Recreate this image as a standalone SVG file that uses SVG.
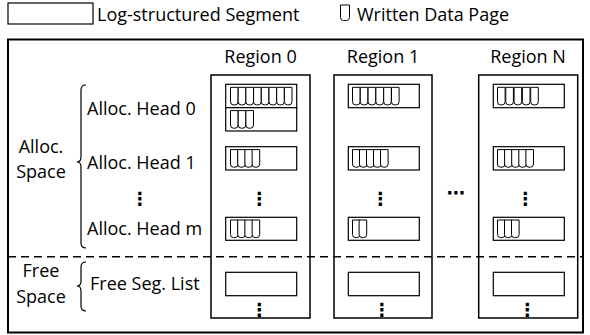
<svg xmlns="http://www.w3.org/2000/svg" xmlns:xlink="http://www.w3.org/1999/xlink" width="590" height="335" viewBox="0 0 590 335">
<style>
text{font-family:"Open Sans","Liberation Sans",sans-serif;font-size:18px;fill:#000}
.mid{text-anchor:middle}
.dots{font-family:"DejaVu Sans",sans-serif;font-size:18px;font-weight:bold;text-anchor:middle}
.seg{fill:#fff;stroke:#000;stroke-width:1.2}
.reg{fill:none;stroke:#000;stroke-width:1.5}
.pg{fill:#fff;stroke:#000;stroke-width:1}
.br{fill:none;stroke:#000;stroke-width:1.2}
</style>
<defs>
<path id="p" class="pg" d="M0,0 H7.6 V14.4 Q7.6,17.6 4.6,17.6 H3 Q0,17.6 0,14.4 Z"/>
</defs>
<rect x="0" y="0" width="590" height="335" fill="#fff"/>
<g id="legend">
<rect class="seg" x="8" y="3" width="85" height="21"/>
<text x="97" y="21">Log-structured Segment</text>
<path class="pg" d="M340.5,5 H349.5 V17.5 Q349.5,20.5 346.5,20.5 H343.5 Q340.5,20.5 340.5,17.5 Z"/>
<text x="357" y="21">Written Data Page</text>
</g>
<g id="frame">
<rect x="8" y="39.5" width="575" height="293" fill="none" stroke="#000" stroke-width="2"/>
<line x1="8" y1="256.7" x2="583" y2="256.7" stroke="#000" stroke-width="1.5" stroke-dasharray="8,5"/>
</g>
<g id="labels">
<text class="mid" x="41" y="153">Alloc.</text>
<text class="mid" x="41" y="178">Space</text>
<text class="mid" x="41" y="277">Free</text>
<text class="mid" x="41" y="303">Space</text>
<text x="87" y="115">Alloc. Head 0</text>
<text x="87" y="169">Alloc. Head 1</text>
<text class="dots" x="140" y="205">⋮</text>
<text x="87" y="235">Alloc. Head m</text>
<text x="90" y="290">Free Seg. List</text>
</g>
<g id="braces">
<path class="br" d="M86,85 Q81,85 81,90 V157 Q81,162 77,162 Q81,162 81,167 V243 Q81,248 86,248"/>
<path class="br" d="M86,262 Q81,262 81,267 V281 Q81,286 77,286 Q81,286 81,291 V306 Q81,311 86,311"/>
</g>
<g id="region0">
<text class="mid" x="260.5" y="63">Region 0</text>
<rect class="reg" x="211" y="75" width="99" height="243"/>
<rect class="seg" x="225.7" y="84.3" width="71" height="23.4"/>
<rect class="seg" x="225.7" y="107.7" width="71" height="23.3"/>
<rect class="seg" x="225.7" y="146.7" width="71" height="23.3"/>
<rect class="seg" x="225.7" y="217.3" width="71" height="23"/>
<rect class="seg" x="225.7" y="272.3" width="71" height="23.4"/>
<g transform="translate(230.5,87.3)"><use xlink:href="#p" x="0"/><use xlink:href="#p" x="7.7"/><use xlink:href="#p" x="15.4"/><use xlink:href="#p" x="23.1"/><use xlink:href="#p" x="30.8"/><use xlink:href="#p" x="38.5"/><use xlink:href="#p" x="46.2"/><use xlink:href="#p" x="53.9"/></g>
<g transform="translate(230.5,110.6)"><use xlink:href="#p" x="0"/><use xlink:href="#p" x="7.7"/><use xlink:href="#p" x="15.4"/></g>
<g transform="translate(230.5,149.6)"><use xlink:href="#p" x="0"/><use xlink:href="#p" x="7.2"/><use xlink:href="#p" x="14.4"/><use xlink:href="#p" x="21.6"/></g>
<g transform="translate(230.5,220)"><use xlink:href="#p" x="0"/><use xlink:href="#p" x="7.2"/><use xlink:href="#p" x="14.4"/><use xlink:href="#p" x="21.6"/></g>
<text class="dots" x="259.5" y="205">⋮</text>
<text class="dots" x="259.5" y="316">⋮</text>
</g>
<g id="region1">
<text class="mid" x="383" y="63">Region 1</text>
<rect class="reg" x="334" y="75" width="98" height="243"/>
<rect class="seg" x="348.3" y="84.3" width="71" height="23.4"/>
<rect class="seg" x="348.3" y="146.7" width="71" height="23.3"/>
<rect class="seg" x="348.3" y="217.3" width="71" height="23"/>
<rect class="seg" x="348.3" y="272.3" width="71" height="23.4"/>
<g transform="translate(352.5,87.3)"><use xlink:href="#p" x="0"/><use xlink:href="#p" x="7.8"/><use xlink:href="#p" x="15.6"/><use xlink:href="#p" x="23.4"/><use xlink:href="#p" x="31.2"/><use xlink:href="#p" x="39"/></g>
<g transform="translate(352.5,149.6)"><use xlink:href="#p" x="0"/><use xlink:href="#p" x="7"/><use xlink:href="#p" x="14"/><use xlink:href="#p" x="21"/><use xlink:href="#p" x="28"/></g>
<g transform="translate(352.5,220)"><use xlink:href="#p" x="0"/><use xlink:href="#p" x="6.6"/></g>
<text class="dots" x="380.5" y="205">⋮</text>
<text class="dots" x="382" y="316">⋮</text>
</g>
<text class="dots" x="455.5" y="199">⋯</text>
<g id="regionN">
<text class="mid" x="528" y="63">Region N</text>
<rect class="reg" x="478.7" y="75" width="99" height="243"/>
<rect class="seg" x="493.3" y="84.3" width="71" height="23.4"/>
<rect class="seg" x="493.3" y="146.7" width="71" height="23.3"/>
<rect class="seg" x="493.3" y="217.3" width="71" height="23"/>
<rect class="seg" x="493.3" y="272.3" width="71" height="23.4"/>
<g transform="translate(497.5,87.3)"><use xlink:href="#p" x="0"/><use xlink:href="#p" x="8.3"/><use xlink:href="#p" x="16.6"/><use xlink:href="#p" x="24.9"/><use xlink:href="#p" x="33.2"/></g>
<g transform="translate(497.5,149.6)"><use xlink:href="#p" x="0"/><use xlink:href="#p" x="7.1"/><use xlink:href="#p" x="14.2"/><use xlink:href="#p" x="21.3"/><use xlink:href="#p" x="28.4"/></g>
<g transform="translate(497.5,220)"><use xlink:href="#p" x="0"/><use xlink:href="#p" x="7"/><use xlink:href="#p" x="14"/></g>
<text class="dots" x="525.5" y="205">⋮</text>
<text class="dots" x="527.5" y="316">⋮</text>
</g>
</svg>
